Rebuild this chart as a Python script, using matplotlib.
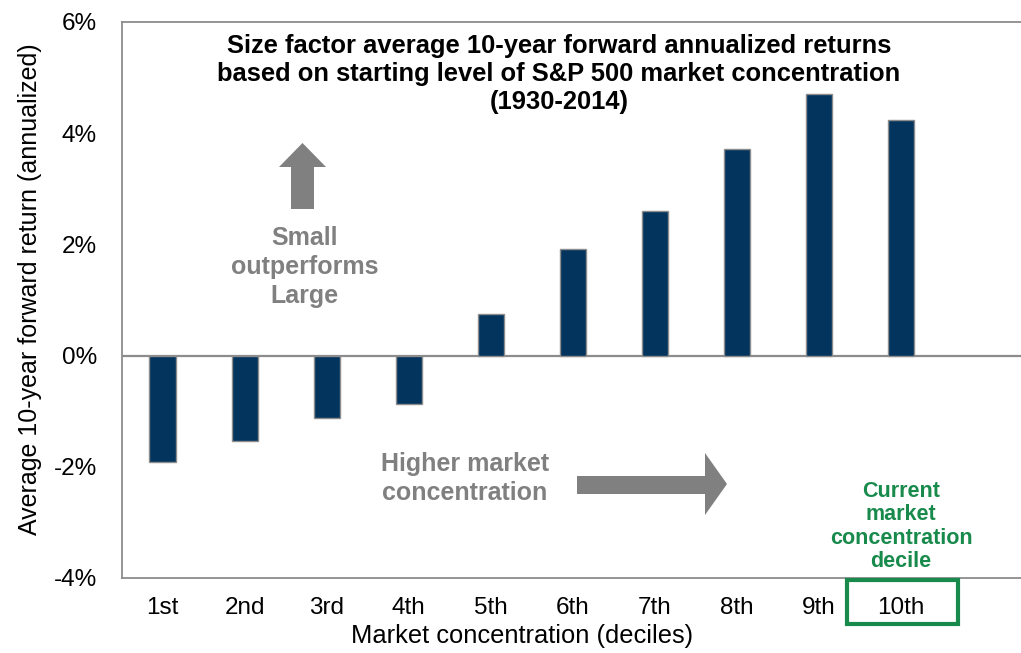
import matplotlib
matplotlib.use("Agg")
import matplotlib.pyplot as plt
from matplotlib.patches import Polygon, Rectangle

plt.rcParams['font.family'] = ['Liberation Sans', 'DejaVu Sans']

deciles = ["1st", "2nd", "3rd", "4th", "5th", "6th", "7th", "8th", "9th", "10th"]
returns = [-1.91, -1.53, -1.13, -0.87, 0.75, 1.92, 2.60, 3.72, 4.70, 4.24]
yticks = [-4, -2, 0, 2, 4, 6]
ytick_labels = ["-4%", "-2%", "0%", "2%", "4%", "6%"]

W, H = 1021, 653
fig = plt.figure(figsize=(W / 100, H / 100), dpi=100)
ax = fig.add_axes([122 / W, 1 - 578 / H, (W - 122) / W + 0.002, (578 - 22) / H])

navy = "#03345E"
gray = "#8C8C8C"
txtgray = "#808080"
green = "#188A4C"

x = list(range(len(deciles)))
ax.bar(x, returns, width=0.32, color=navy, edgecolor=gray, linewidth=1.0, zorder=3)
ax.axhline(0, color=gray, linewidth=1.6, zorder=2)

ax.set_ylim(-4, 6)
ax.set_xlim(-0.495, 10.49)
ax.set_yticks(yticks)
ax.set_yticklabels(ytick_labels)
ax.set_xticks(x)
ax.set_xticklabels(deciles)
ax.tick_params(axis='y', length=0, pad=18, labelsize=17.5)
ax.tick_params(axis='x', length=0, pad=14, labelsize=17.5)
for side in ["left", "top", "bottom"]:
    ax.spines[side].set_color(gray)
    ax.spines[side].set_linewidth(1.3)
ax.spines["right"].set_visible(False)

def fx(px):
    return px / W

def fy(py):
    return 1 - py / H

fig.text(fx(522), fy(636), "Market concentration (deciles)", ha="center", va="center",
         fontsize=18.4)
fig.text(fx(30), fy(289), "Average 10-year forward return (annualized)", ha="center",
         va="center", rotation=90, fontsize=18)

# title
fig.text(fx(559), fy(74),
         "Size factor average 10-year forward annualized returns\n"
         "based on starting level of S&P 500 market concentration\n"
         "(1930-2014)",
         ha="center", va="center", fontsize=18.4, fontweight="bold",
         color="black", linespacing=1.22)

# up arrow
up = [(291, 209), (291, 167), (279, 167), (302.5, 143), (326, 167), (314, 167), (314, 209)]
fig.patches.append(Polygon([(fx(a), fy(b)) for a, b in up], closed=True,
                           transform=fig.transFigure, facecolor=txtgray,
                           edgecolor="none"))
fig.text(fx(304.5), fy(267), "Small\noutperforms\nLarge", ha="center", va="center",
         fontsize=18, fontweight="bold", color=txtgray, linespacing=1.28)

# right arrow
rt = [(577, 476), (705, 476), (705, 453), (727, 484), (705, 515), (705, 494), (577, 494)]
fig.patches.append(Polygon([(fx(a), fy(b)) for a, b in rt], closed=True,
                           transform=fig.transFigure, facecolor=txtgray,
                           edgecolor="none"))
fig.text(fx(465), fy(478.5), "Higher market\nconcentration", ha="center", va="center",
         fontsize=18, fontweight="bold", color=txtgray, linespacing=1.25)

# current decile note
fig.text(fx(901), fy(526.5), "Current\nmarket\nconcentration\ndecile", ha="center",
         va="center", fontsize=15.5, fontweight="bold", color=green, linespacing=1.15)
fig.patches.append(Rectangle((fx(847), fy(624)), fx(958) - fx(847), fy(580) - fy(624),
                             transform=fig.transFigure, facecolor="none",
                             edgecolor=green, linewidth=3))

fig.savefig("out.png", dpi=100)
